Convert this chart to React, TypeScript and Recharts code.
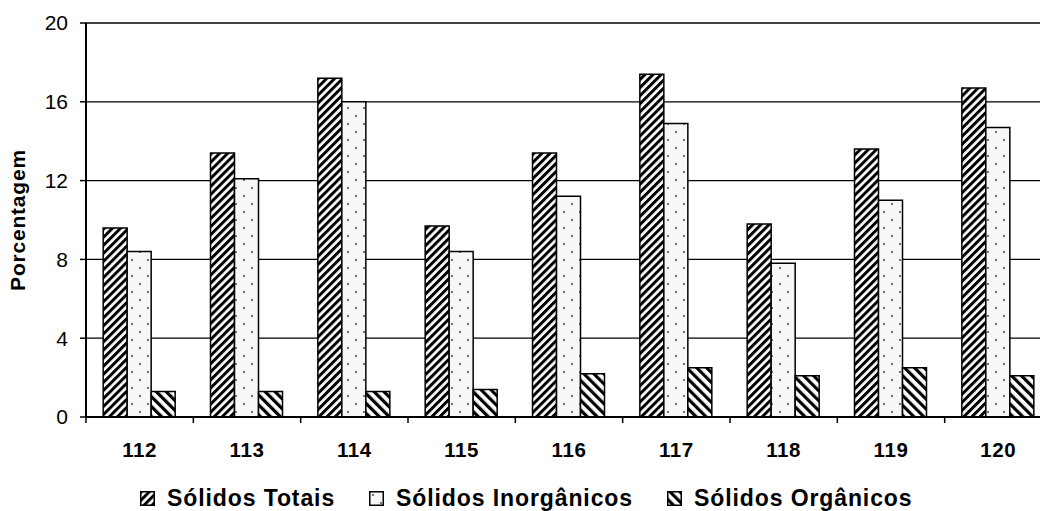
import { BarChart, Bar, XAxis, YAxis, CartesianGrid } from 'recharts'

const categories = ['112', '113', '114', '115', '116', '117', '118', '119', '120']
const solidosTotais = [9.6, 13.4, 17.2, 9.7, 13.4, 17.4, 9.8, 13.6, 16.7]
const solidosInorganicos = [8.4, 12.1, 16.0, 8.4, 11.2, 14.9, 7.8, 11.0, 14.7]
const solidosOrganicos = [1.3, 1.3, 1.3, 1.4, 2.2, 2.5, 2.1, 2.5, 2.1]
const yTicks = [0, 4, 8, 12, 16, 20]

const seriesNames = ['Sólidos Totais', 'Sólidos Inorgânicos', 'Sólidos Orgânicos']
const patternIds = ['pat-st', 'pat-si', 'pat-so']

const FONT = 'Arial, "Liberation Sans", sans-serif'
const CHART_W = 1052
const CHART_H = 511
const Y_AXIS_W = 86
const BAND = (CHART_W - Y_AXIS_W) / categories.length

const data = categories.map((c, i) => ({
  name: c,
  st: solidosTotais[i],
  si: solidosInorganicos[i],
  so: solidosOrganicos[i],
}))

function Patterns() {
  return (
    <svg width={0} height={0} style={{ position: 'absolute' }}>
      <defs>
        <pattern id="pat-st" patternUnits="userSpaceOnUse" width={5.7} height={5.7} patternTransform="rotate(45)">
          <rect width={5.7} height={5.7} fill="#fff" />
          <rect width={3} height={5.7} fill="#000" />
        </pattern>
        <pattern id="pat-si" patternUnits="userSpaceOnUse" width={16} height={16}>
          <rect width={16} height={16} fill="#f7f7f7" />
          <circle cx={4} cy={4} r={0.9} fill="#333" />
          <circle cx={12} cy={12} r={0.9} fill="#333" />
        </pattern>
        <pattern id="pat-so" patternUnits="userSpaceOnUse" width={7} height={7} patternTransform="rotate(-45)">
          <rect width={7} height={7} fill="#fff" />
          <rect width={3.2} height={7} fill="#000" />
        </pattern>
      </defs>
    </svg>
  )
}

function CategoryTick(props: any) {
  const { x, y, payload, index } = props
  const last = index === categories.length - 1
  return (
    <g>
      <line x1={x - BAND / 2} x2={x - BAND / 2} y1={y} y2={y + 6} stroke="#000" strokeWidth={1.5} />
      {last && <line x1={x + BAND / 2} x2={x + BAND / 2} y1={y} y2={y + 6} stroke="#000" strokeWidth={1.5} />}
      <text
        x={x}
        y={y + 40}
        textAnchor="middle"
        fontFamily={FONT}
        fontSize={20.5}
        fontWeight="bold"
        letterSpacing={0.6}
        fill="#000"
      >
        {payload.value}
      </text>
    </g>
  )
}

function YLabel(props: any) {
  const { viewBox } = props
  const cx = 17
  const cy = viewBox.y + viewBox.height / 2
  return (
    <text
      x={cx}
      y={cy}
      transform={`rotate(-90 ${cx} ${cy})`}
      textAnchor="middle"
      dominantBaseline="central"
      fontFamily={FONT}
      fontSize={21}
      fontWeight="bold"
      letterSpacing={0.8}
      fill="#000"
    >
      Porcentagem
    </text>
  )
}

function Legend() {
  return (
    <div
      style={{
        position: 'absolute',
        left: 140,
        top: 484,
        display: 'flex',
        alignItems: 'center',
        fontFamily: FONT,
        fontSize: 23,
        fontWeight: 'bold',
        letterSpacing: 0.9,
        lineHeight: '28px',
        whiteSpace: 'nowrap',
      }}
    >
      {seriesNames.map((name, i) => (
        <div key={name} style={{ display: 'flex', alignItems: 'center', marginRight: 34 }}>
          <svg width={15} height={15} style={{ marginRight: 12 }}>
            <rect x={0.75} y={0.75} width={13.5} height={13.5} fill={`url(#${patternIds[i]})`} stroke="#000" strokeWidth={1.5} />
          </svg>
          <span>{name}</span>
        </div>
      ))}
    </div>
  )
}

export default function App() {
  return (
    <div
      style={{
        position: 'absolute',
        left: 0,
        top: 0,
        width: 1040,
        height: 511,
        overflow: 'hidden',
        background: '#fff',
      }}
    >
      <Patterns />
      <BarChart
        width={CHART_W}
        height={CHART_H}
        data={data}
        margin={{ top: 23, right: 0, left: 0, bottom: 54 }}
        barCategoryGap="16%"
        barGap={0}
      >
        <CartesianGrid vertical={false} stroke="#000" strokeWidth={1.3} />
        <XAxis
          dataKey="name"
          height={40}
          tickLine={false}
          tickSize={0}
          tickMargin={0}
          axisLine={{ stroke: '#000', strokeWidth: 2 }}
          tick={<CategoryTick />}
          interval={0}
        />
        <YAxis
          width={Y_AXIS_W}
          domain={[0, 20]}
          ticks={yTicks}
          tickSize={6}
          tickMargin={12}
          axisLine={{ stroke: '#000', strokeWidth: 2 }}
          tickLine={{ stroke: '#000', strokeWidth: 1.5 }}
          tick={{ fill: '#000', fontSize: 21, fontFamily: FONT }}
          label={<YLabel />}
        />
        <Bar dataKey="st" name={seriesNames[0]} fill="url(#pat-st)" stroke="#000" strokeWidth={1.5} isAnimationActive={false} />
        <Bar dataKey="si" name={seriesNames[1]} fill="url(#pat-si)" stroke="#000" strokeWidth={1.5} isAnimationActive={false} />
        <Bar dataKey="so" name={seriesNames[2]} fill="url(#pat-so)" stroke="#000" strokeWidth={1.5} isAnimationActive={false} />
      </BarChart>
      <Legend />
    </div>
  )
}
